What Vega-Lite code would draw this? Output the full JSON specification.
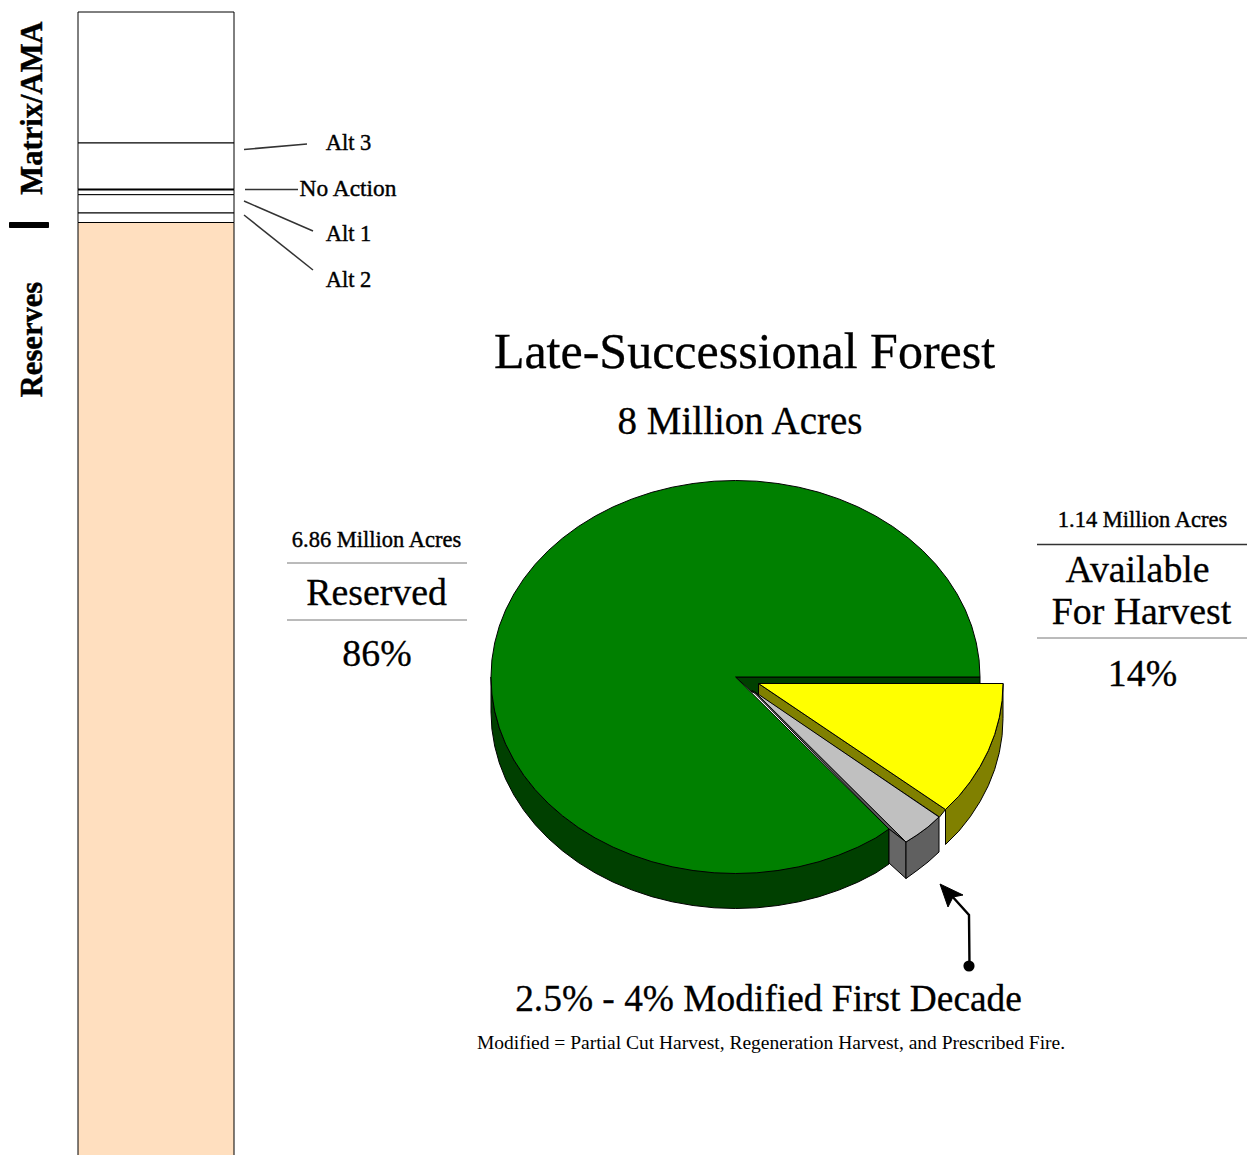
{
  "$schema": "https://vega.github.io/schema/vega-lite/v6.json",
  "width": 1254,
  "height": 1155,
  "padding": 0,
  "autosize": {"type": "none"},
  "background": "white",
  "config": {"view": {"stroke": null}},
  "resolve": {"scale": {"fill": "independent"}},
  "datasets": {
    "column": [
      {"zone": "Matrix top", "left": 78, "right": 234, "top": 12, "bottom": 143},
      {"zone": "Alt 3", "left": 78, "right": 234, "top": 143, "bottom": 189.5},
      {"zone": "No Action", "left": 78, "right": 234, "top": 189.5, "bottom": 194.7},
      {"zone": "Alt 1", "left": 78, "right": 234, "top": 194.7, "bottom": 213},
      {"zone": "Alt 2", "left": 78, "right": 234, "top": 213, "bottom": 222.5},
      {"zone": "Reserves", "left": 78, "right": 234, "top": 222.5, "bottom": 1170},
      {"zone": "Divider", "left": 9.5, "right": 48.5, "top": 222.5, "bottom": 227.5}
    ],
    "rules": [
      {"name": "No Action edge", "a": 78, "b": 234, "c": 189.5, "d": 189.5, "kind": "heavy"},
      {"name": "Alt 3 leader", "a": 244, "b": 307, "c": 149.5, "d": 144, "kind": "leader"},
      {"name": "No Action leader", "a": 245, "b": 298, "c": 189.5, "d": 189.5, "kind": "leader"},
      {"name": "Alt 1 leader", "a": 244, "b": 313, "c": 201, "d": 231, "kind": "leader"},
      {"name": "Alt 2 leader", "a": 244, "b": 313, "c": 215, "d": 270, "kind": "leader"},
      {"name": "Reserved upper", "a": 287, "b": 467, "c": 563, "d": 563, "kind": "table"},
      {"name": "Reserved lower", "a": 287, "b": 467, "c": 620, "d": 620, "kind": "table"},
      {"name": "Harvest upper", "a": 1037, "b": 1247, "c": 544.5, "d": 544.5, "kind": "leader"},
      {"name": "Harvest lower", "a": 1037, "b": 1247, "c": 638, "d": 638, "kind": "table"}
    ],
    "pie": [
      {"part": "slot", "seq": 1, "x": 735.5, "y": 677},
      {"part": "slot", "seq": 2, "x": 980, "y": 677},
      {"part": "slot", "seq": 3, "x": 980, "y": 690},
      {"part": "slot", "seq": 4, "x": 760, "y": 695},
      {"part": "slot", "seq": 5, "x": 752, "y": 692},
      {"part": "slot", "seq": 6, "x": 735.5, "y": 677},

      {"part": "reserved side", "seq": 1, "x": 491, "y": 677},
      {"part": "reserved side", "seq": 2, "x": 491.9, "y": 694.1},
      {"part": "reserved side", "seq": 3, "x": 494.7, "y": 711.1},
      {"part": "reserved side", "seq": 4, "x": 499.3, "y": 727.9},
      {"part": "reserved side", "seq": 5, "x": 505.7, "y": 744.2},
      {"part": "reserved side", "seq": 6, "x": 513.9, "y": 760},
      {"part": "reserved side", "seq": 7, "x": 523.8, "y": 775.3},
      {"part": "reserved side", "seq": 8, "x": 535.2, "y": 789.7},
      {"part": "reserved side", "seq": 9, "x": 548.2, "y": 803.3},
      {"part": "reserved side", "seq": 10, "x": 562.6, "y": 815.9},
      {"part": "reserved side", "seq": 11, "x": 578.3, "y": 827.5},
      {"part": "reserved side", "seq": 12, "x": 595.3, "y": 838},
      {"part": "reserved side", "seq": 13, "x": 889, "y": 829},
      {"part": "reserved side", "seq": 14, "x": 889, "y": 864},
      {"part": "reserved side", "seq": 15, "x": 875.7, "y": 873},
      {"part": "reserved side", "seq": 16, "x": 857.8, "y": 882.2},
      {"part": "reserved side", "seq": 17, "x": 838.8, "y": 890.1},
      {"part": "reserved side", "seq": 18, "x": 819.1, "y": 896.7},
      {"part": "reserved side", "seq": 19, "x": 798.8, "y": 901.8},
      {"part": "reserved side", "seq": 20, "x": 777.9, "y": 905.5},
      {"part": "reserved side", "seq": 21, "x": 756.8, "y": 907.8},
      {"part": "reserved side", "seq": 22, "x": 735.5, "y": 908.5},
      {"part": "reserved side", "seq": 23, "x": 714.2, "y": 907.8},
      {"part": "reserved side", "seq": 24, "x": 693.1, "y": 905.5},
      {"part": "reserved side", "seq": 25, "x": 672.2, "y": 901.8},
      {"part": "reserved side", "seq": 26, "x": 651.9, "y": 896.7},
      {"part": "reserved side", "seq": 27, "x": 632.2, "y": 890.1},
      {"part": "reserved side", "seq": 28, "x": 613.2, "y": 882.2},
      {"part": "reserved side", "seq": 29, "x": 595.3, "y": 873},
      {"part": "reserved side", "seq": 30, "x": 578.3, "y": 862.5},
      {"part": "reserved side", "seq": 31, "x": 562.6, "y": 850.9},
      {"part": "reserved side", "seq": 32, "x": 548.2, "y": 838.3},
      {"part": "reserved side", "seq": 33, "x": 535.2, "y": 824.7},
      {"part": "reserved side", "seq": 34, "x": 523.8, "y": 810.3},
      {"part": "reserved side", "seq": 35, "x": 513.9, "y": 795},
      {"part": "reserved side", "seq": 36, "x": 505.7, "y": 779.2},
      {"part": "reserved side", "seq": 37, "x": 499.3, "y": 762.9},
      {"part": "reserved side", "seq": 38, "x": 494.7, "y": 746.1},
      {"part": "reserved side", "seq": 39, "x": 491.9, "y": 729.1},
      {"part": "reserved side", "seq": 40, "x": 491, "y": 712},
      {"part": "reserved side", "seq": 41, "x": 491, "y": 677},

      {"part": "reserved", "seq": 1, "x": 735.5, "y": 677},
      {"part": "reserved", "seq": 2, "x": 980, "y": 677},
      {"part": "reserved", "seq": 3, "x": 979.1, "y": 659.9},
      {"part": "reserved", "seq": 4, "x": 976.3, "y": 642.9},
      {"part": "reserved", "seq": 5, "x": 971.7, "y": 626.1},
      {"part": "reserved", "seq": 6, "x": 965.3, "y": 609.8},
      {"part": "reserved", "seq": 7, "x": 957.1, "y": 594},
      {"part": "reserved", "seq": 8, "x": 947.2, "y": 578.7},
      {"part": "reserved", "seq": 9, "x": 935.8, "y": 564.3},
      {"part": "reserved", "seq": 10, "x": 922.8, "y": 550.7},
      {"part": "reserved", "seq": 11, "x": 908.4, "y": 538.1},
      {"part": "reserved", "seq": 12, "x": 892.7, "y": 526.5},
      {"part": "reserved", "seq": 13, "x": 875.7, "y": 516},
      {"part": "reserved", "seq": 14, "x": 857.8, "y": 506.8},
      {"part": "reserved", "seq": 15, "x": 838.8, "y": 498.9},
      {"part": "reserved", "seq": 16, "x": 819.1, "y": 492.3},
      {"part": "reserved", "seq": 17, "x": 798.8, "y": 487.2},
      {"part": "reserved", "seq": 18, "x": 777.9, "y": 483.5},
      {"part": "reserved", "seq": 19, "x": 756.8, "y": 481.2},
      {"part": "reserved", "seq": 20, "x": 735.5, "y": 480.5},
      {"part": "reserved", "seq": 21, "x": 714.2, "y": 481.2},
      {"part": "reserved", "seq": 22, "x": 693.1, "y": 483.5},
      {"part": "reserved", "seq": 23, "x": 672.2, "y": 487.2},
      {"part": "reserved", "seq": 24, "x": 651.9, "y": 492.3},
      {"part": "reserved", "seq": 25, "x": 632.2, "y": 498.9},
      {"part": "reserved", "seq": 26, "x": 613.2, "y": 506.8},
      {"part": "reserved", "seq": 27, "x": 595.3, "y": 516},
      {"part": "reserved", "seq": 28, "x": 578.3, "y": 526.5},
      {"part": "reserved", "seq": 29, "x": 562.6, "y": 538.1},
      {"part": "reserved", "seq": 30, "x": 548.2, "y": 550.7},
      {"part": "reserved", "seq": 31, "x": 535.2, "y": 564.3},
      {"part": "reserved", "seq": 32, "x": 523.8, "y": 578.7},
      {"part": "reserved", "seq": 33, "x": 513.9, "y": 594},
      {"part": "reserved", "seq": 34, "x": 505.7, "y": 609.8},
      {"part": "reserved", "seq": 35, "x": 499.3, "y": 626.1},
      {"part": "reserved", "seq": 36, "x": 494.7, "y": 642.9},
      {"part": "reserved", "seq": 37, "x": 491.9, "y": 659.9},
      {"part": "reserved", "seq": 38, "x": 491, "y": 677},
      {"part": "reserved", "seq": 39, "x": 491.9, "y": 694.1},
      {"part": "reserved", "seq": 40, "x": 494.7, "y": 711.1},
      {"part": "reserved", "seq": 41, "x": 499.3, "y": 727.9},
      {"part": "reserved", "seq": 42, "x": 505.7, "y": 744.2},
      {"part": "reserved", "seq": 43, "x": 513.9, "y": 760},
      {"part": "reserved", "seq": 44, "x": 523.8, "y": 775.3},
      {"part": "reserved", "seq": 45, "x": 535.2, "y": 789.7},
      {"part": "reserved", "seq": 46, "x": 548.2, "y": 803.3},
      {"part": "reserved", "seq": 47, "x": 562.6, "y": 815.9},
      {"part": "reserved", "seq": 48, "x": 578.3, "y": 827.5},
      {"part": "reserved", "seq": 49, "x": 595.3, "y": 838},
      {"part": "reserved", "seq": 50, "x": 613.2, "y": 847.2},
      {"part": "reserved", "seq": 51, "x": 632.2, "y": 855.1},
      {"part": "reserved", "seq": 52, "x": 651.9, "y": 861.7},
      {"part": "reserved", "seq": 53, "x": 672.2, "y": 866.8},
      {"part": "reserved", "seq": 54, "x": 693.1, "y": 870.5},
      {"part": "reserved", "seq": 55, "x": 714.2, "y": 872.8},
      {"part": "reserved", "seq": 56, "x": 735.5, "y": 873.5},
      {"part": "reserved", "seq": 57, "x": 756.8, "y": 872.8},
      {"part": "reserved", "seq": 58, "x": 777.9, "y": 870.5},
      {"part": "reserved", "seq": 59, "x": 798.8, "y": 866.8},
      {"part": "reserved", "seq": 60, "x": 819.1, "y": 861.7},
      {"part": "reserved", "seq": 61, "x": 838.8, "y": 855.1},
      {"part": "reserved", "seq": 62, "x": 857.8, "y": 847.2},
      {"part": "reserved", "seq": 63, "x": 875.7, "y": 838},
      {"part": "reserved", "seq": 64, "x": 889, "y": 829},
      {"part": "reserved", "seq": 65, "x": 735.5, "y": 677},

      {"part": "harvest side", "seq": 1, "x": 1003, "y": 683.5},
      {"part": "harvest side", "seq": 2, "x": 1002.1, "y": 700.6},
      {"part": "harvest side", "seq": 3, "x": 999.3, "y": 717.6},
      {"part": "harvest side", "seq": 4, "x": 994.7, "y": 734.4},
      {"part": "harvest side", "seq": 5, "x": 988.3, "y": 750.7},
      {"part": "harvest side", "seq": 6, "x": 980.1, "y": 766.5},
      {"part": "harvest side", "seq": 7, "x": 970.2, "y": 781.8},
      {"part": "harvest side", "seq": 8, "x": 958.8, "y": 796.2},
      {"part": "harvest side", "seq": 9, "x": 945.5, "y": 809.5},
      {"part": "harvest side", "seq": 10, "x": 945.5, "y": 844.5},
      {"part": "harvest side", "seq": 11, "x": 958.8, "y": 831.2},
      {"part": "harvest side", "seq": 12, "x": 970.2, "y": 816.8},
      {"part": "harvest side", "seq": 13, "x": 980.1, "y": 801.5},
      {"part": "harvest side", "seq": 14, "x": 988.3, "y": 785.7},
      {"part": "harvest side", "seq": 15, "x": 994.7, "y": 769.4},
      {"part": "harvest side", "seq": 16, "x": 999.3, "y": 752.6},
      {"part": "harvest side", "seq": 17, "x": 1002.1, "y": 735.6},
      {"part": "harvest side", "seq": 18, "x": 1003, "y": 718.5},
      {"part": "harvest side", "seq": 19, "x": 1003, "y": 683.5},

      {"part": "harvest cut", "seq": 1, "x": 758.5, "y": 683.5},
      {"part": "harvest cut", "seq": 2, "x": 945.5, "y": 809.5},
      {"part": "harvest cut", "seq": 3, "x": 939.5, "y": 817},
      {"part": "harvest cut", "seq": 4, "x": 758.5, "y": 695},
      {"part": "harvest cut", "seq": 5, "x": 758.5, "y": 683.5},

      {"part": "harvest", "seq": 1, "x": 758.5, "y": 683.5},
      {"part": "harvest", "seq": 2, "x": 1003, "y": 683.5},
      {"part": "harvest", "seq": 3, "x": 1002.1, "y": 700.6},
      {"part": "harvest", "seq": 4, "x": 999.3, "y": 717.6},
      {"part": "harvest", "seq": 5, "x": 994.7, "y": 734.4},
      {"part": "harvest", "seq": 6, "x": 988.3, "y": 750.7},
      {"part": "harvest", "seq": 7, "x": 980.1, "y": 766.5},
      {"part": "harvest", "seq": 8, "x": 970.2, "y": 781.8},
      {"part": "harvest", "seq": 9, "x": 958.8, "y": 796.2},
      {"part": "harvest", "seq": 10, "x": 945.5, "y": 809.5},
      {"part": "harvest", "seq": 11, "x": 758.5, "y": 683.5},

      {"part": "modified sliver", "seq": 1, "x": 752, "y": 690.5},
      {"part": "modified sliver", "seq": 2, "x": 889, "y": 829},
      {"part": "modified sliver", "seq": 3, "x": 906, "y": 842},
      {"part": "modified sliver", "seq": 4, "x": 755, "y": 692},
      {"part": "modified sliver", "seq": 5, "x": 752, "y": 690.5},

      {"part": "modified inner", "seq": 1, "x": 889, "y": 829},
      {"part": "modified inner", "seq": 2, "x": 906, "y": 842},
      {"part": "modified inner", "seq": 3, "x": 906, "y": 878.5},
      {"part": "modified inner", "seq": 4, "x": 889, "y": 863},
      {"part": "modified inner", "seq": 5, "x": 889, "y": 829},

      {"part": "modified outer", "seq": 1, "x": 906, "y": 842},
      {"part": "modified outer", "seq": 2, "x": 917, "y": 835},
      {"part": "modified outer", "seq": 3, "x": 928, "y": 827},
      {"part": "modified outer", "seq": 4, "x": 939, "y": 817},
      {"part": "modified outer", "seq": 5, "x": 939, "y": 852},
      {"part": "modified outer", "seq": 6, "x": 928, "y": 862},
      {"part": "modified outer", "seq": 7, "x": 917, "y": 870.5},
      {"part": "modified outer", "seq": 8, "x": 906, "y": 878.5},
      {"part": "modified outer", "seq": 9, "x": 906, "y": 842},

      {"part": "modified", "seq": 1, "x": 755, "y": 692},
      {"part": "modified", "seq": 2, "x": 939, "y": 817},
      {"part": "modified", "seq": 3, "x": 928, "y": 827},
      {"part": "modified", "seq": 4, "x": 917, "y": 835},
      {"part": "modified", "seq": 5, "x": 906, "y": 842},
      {"part": "modified", "seq": 6, "x": 755, "y": 692}
    ],
    "arrowShaft": [
      {"seq": 1, "x": 969.5, "y": 966},
      {"seq": 2, "x": 969, "y": 915},
      {"seq": 3, "x": 951, "y": 895}
    ],
    "arrowHead": [
      {"seq": 1, "x": 940, "y": 884},
      {"seq": 2, "x": 963, "y": 895},
      {"seq": 3, "x": 953, "y": 897},
      {"seq": 4, "x": 948, "y": 907},
      {"seq": 5, "x": 940, "y": 884}
    ],
    "arrowDot": [{"x": 969, "y": 966}]
  },
  "layer": [
    {
      "data": {"name": "column"},
      "mark": {"type": "rect", "stroke": "black", "strokeWidth": 1, "clip": true},
      "encoding": {
        "x": {"field": "left", "type": "quantitative", "scale": {"domain": [0, 1254], "range": [0, 1254]}, "axis": null},
        "x2": {"field": "right"},
        "y": {"field": "top", "type": "quantitative", "scale": {"domain": [0, 1155], "range": [0, 1155]}, "axis": null},
        "y2": {"field": "bottom"},
        "fill": {
          "field": "zone",
          "type": "nominal",
          "legend": null,
          "scale": {
            "domain": ["Matrix top", "Alt 3", "No Action", "Alt 1", "Alt 2", "Reserves", "Divider"],
            "range": ["#ffffff", "#ffffff", "#ffffff", "#ffffff", "#ffffff", "#ffdfbf", "#000000"]
          }
        }
      }
    },
    {
      "data": {"name": "rules"},
      "mark": {"type": "rule"},
      "encoding": {
        "x": {"field": "a", "type": "quantitative", "scale": {"domain": [0, 1254], "range": [0, 1254]}, "axis": null},
        "x2": {"field": "b"},
        "y": {"field": "c", "type": "quantitative", "scale": {"domain": [0, 1155], "range": [0, 1155]}, "axis": null},
        "y2": {"field": "d"},
        "stroke": {
          "field": "kind",
          "type": "nominal",
          "legend": null,
          "scale": {"domain": ["heavy", "leader", "table"], "range": ["#000000", "#333333", "#777777"]}
        },
        "strokeWidth": {
          "field": "kind",
          "type": "nominal",
          "legend": null,
          "scale": {"domain": ["heavy", "leader", "table"], "range": [2, 1, 1.2]}
        }
      }
    },
    {
      "data": {"name": "pie"},
      "mark": {"type": "line", "stroke": "black", "strokeWidth": 1, "strokeJoin": "round"},
      "encoding": {
        "x": {"field": "x", "type": "quantitative", "scale": {"domain": [0, 1254], "range": [0, 1254]}, "axis": null},
        "y": {"field": "y", "type": "quantitative", "scale": {"domain": [0, 1155], "range": [0, 1155]}, "axis": null},
        "order": {"field": "seq", "type": "quantitative"},
        "detail": {"field": "part", "type": "nominal"},
        "fill": {
          "field": "part",
          "type": "nominal",
          "legend": null,
          "scale": {
            "domain": ["slot", "reserved side", "reserved", "harvest side", "harvest cut", "harvest", "modified sliver", "modified inner", "modified outer", "modified"],
            "range": ["#004000", "#004000", "#008000", "#808000", "#808000", "#ffff00", "#606060", "#666666", "#606060", "#c0c0c0"]
          }
        }
      }
    },
    {
      "data": {"name": "arrowShaft"},
      "mark": {"type": "line", "stroke": "black", "strokeWidth": 2.4},
      "encoding": {
        "x": {"field": "x", "type": "quantitative", "scale": {"domain": [0, 1254], "range": [0, 1254]}, "axis": null},
        "y": {"field": "y", "type": "quantitative", "scale": {"domain": [0, 1155], "range": [0, 1155]}, "axis": null},
        "order": {"field": "seq", "type": "quantitative"}
      }
    },
    {
      "data": {"name": "arrowHead"},
      "mark": {"type": "line", "stroke": "black", "fill": "black", "strokeWidth": 1},
      "encoding": {
        "x": {"field": "x", "type": "quantitative", "scale": {"domain": [0, 1254], "range": [0, 1254]}, "axis": null},
        "y": {"field": "y", "type": "quantitative", "scale": {"domain": [0, 1155], "range": [0, 1155]}, "axis": null},
        "order": {"field": "seq", "type": "quantitative"}
      }
    },
    {
      "data": {"name": "arrowDot"},
      "mark": {"type": "point", "shape": "circle", "filled": true, "fill": "black", "opacity": 1, "size": 125},
      "encoding": {
        "x": {"field": "x", "type": "quantitative", "scale": {"domain": [0, 1254], "range": [0, 1254]}, "axis": null},
        "y": {"field": "y", "type": "quantitative", "scale": {"domain": [0, 1155], "range": [0, 1155]}, "axis": null}
      }
    },
    {
      "data": {"values": [{"t": "Late-Successional Forest", "x": 744.5, "y": 368}]},
      "mark": {"type": "text", "font": "Liberation Serif", "fontSize": 50, "align": "center", "baseline": "alphabetic", "fill": "black", "stroke": "black", "strokeWidth": 0.3},
      "encoding": {
        "x": {"field": "x", "type": "quantitative", "scale": {"domain": [0, 1254], "range": [0, 1254]}, "axis": null},
        "y": {"field": "y", "type": "quantitative", "scale": {"domain": [0, 1155], "range": [0, 1155]}, "axis": null},
        "text": {"field": "t"}
      }
    },
    {
      "data": {"values": [{"t": "8 Million Acres", "x": 740, "y": 434}]},
      "mark": {"type": "text", "font": "Liberation Serif", "fontSize": 39, "align": "center", "baseline": "alphabetic", "fill": "black", "stroke": "black", "strokeWidth": 0.3},
      "encoding": {
        "x": {"field": "x", "type": "quantitative", "scale": {"domain": [0, 1254], "range": [0, 1254]}, "axis": null},
        "y": {"field": "y", "type": "quantitative", "scale": {"domain": [0, 1155], "range": [0, 1155]}, "axis": null},
        "text": {"field": "t"}
      }
    },
    {
      "data": {"values": [
        {"t": "Reserved", "x": 376.5, "y": 605},
        {"t": "86%", "x": 377, "y": 666},
        {"t": "Available", "x": 1137.5, "y": 582},
        {"t": "For Harvest", "x": 1141.5, "y": 624},
        {"t": "14%", "x": 1142.5, "y": 686}
      ]},
      "mark": {"type": "text", "font": "Liberation Serif", "fontSize": 37.8, "align": "center", "baseline": "alphabetic", "fill": "black", "stroke": "black", "strokeWidth": 0.3},
      "encoding": {
        "x": {"field": "x", "type": "quantitative", "scale": {"domain": [0, 1254], "range": [0, 1254]}, "axis": null},
        "y": {"field": "y", "type": "quantitative", "scale": {"domain": [0, 1155], "range": [0, 1155]}, "axis": null},
        "text": {"field": "t"}
      }
    },
    {
      "data": {"values": [{"t": "2.5% - 4% Modified First Decade", "x": 768.5, "y": 1011}]},
      "mark": {"type": "text", "font": "Liberation Serif", "fontSize": 37.4, "align": "center", "baseline": "alphabetic", "fill": "black", "stroke": "black", "strokeWidth": 0.3},
      "encoding": {
        "x": {"field": "x", "type": "quantitative", "scale": {"domain": [0, 1254], "range": [0, 1254]}, "axis": null},
        "y": {"field": "y", "type": "quantitative", "scale": {"domain": [0, 1155], "range": [0, 1155]}, "axis": null},
        "text": {"field": "t"}
      }
    },
    {
      "data": {"values": [
        {"t": "6.86 Million Acres", "x": 376.5, "y": 547},
        {"t": "1.14 Million Acres", "x": 1142.5, "y": 527},
        {"t": "Alt 3", "x": 348.5, "y": 150},
        {"t": "Alt 1", "x": 348.5, "y": 241},
        {"t": "Alt 2", "x": 348.5, "y": 287}
      ]},
      "mark": {"type": "text", "font": "Liberation Serif", "fontSize": 22.5, "align": "center", "baseline": "alphabetic", "fill": "black", "stroke": "black", "strokeWidth": 0.4},
      "encoding": {
        "x": {"field": "x", "type": "quantitative", "scale": {"domain": [0, 1254], "range": [0, 1254]}, "axis": null},
        "y": {"field": "y", "type": "quantitative", "scale": {"domain": [0, 1155], "range": [0, 1155]}, "axis": null},
        "text": {"field": "t"}
      }
    },
    {
      "data": {"values": [{"t": "No Action", "x": 348, "y": 196}]},
      "mark": {"type": "text", "font": "Liberation Serif", "fontSize": 23.4, "align": "center", "baseline": "alphabetic", "fill": "black", "stroke": "black", "strokeWidth": 0.4},
      "encoding": {
        "x": {"field": "x", "type": "quantitative", "scale": {"domain": [0, 1254], "range": [0, 1254]}, "axis": null},
        "y": {"field": "y", "type": "quantitative", "scale": {"domain": [0, 1155], "range": [0, 1155]}, "axis": null},
        "text": {"field": "t"}
      }
    },
    {
      "data": {"values": [{"t": "Modified = Partial Cut Harvest, Regeneration Harvest, and Prescribed Fire.", "x": 771, "y": 1049}]},
      "mark": {"type": "text", "font": "Liberation Serif", "fontSize": 19.5, "align": "center", "baseline": "alphabetic", "fill": "black"},
      "encoding": {
        "x": {"field": "x", "type": "quantitative", "scale": {"domain": [0, 1254], "range": [0, 1254]}, "axis": null},
        "y": {"field": "y", "type": "quantitative", "scale": {"domain": [0, 1155], "range": [0, 1155]}, "axis": null},
        "text": {"field": "t"}
      }
    },
    {
      "data": {"values": [
        {"t": "Matrix/AMA", "x": 41.5, "y": 108},
        {"t": "Reserves", "x": 41.5, "y": 339.5}
      ]},
      "mark": {"type": "text", "font": "Liberation Serif", "fontWeight": "bold", "fontSize": 30.6, "angle": 270, "align": "center", "baseline": "alphabetic", "fill": "black", "stroke": "black", "strokeWidth": 0.4},
      "encoding": {
        "x": {"field": "x", "type": "quantitative", "scale": {"domain": [0, 1254], "range": [0, 1254]}, "axis": null},
        "y": {"field": "y", "type": "quantitative", "scale": {"domain": [0, 1155], "range": [0, 1155]}, "axis": null},
        "text": {"field": "t"}
      }
    }
  ]
}
